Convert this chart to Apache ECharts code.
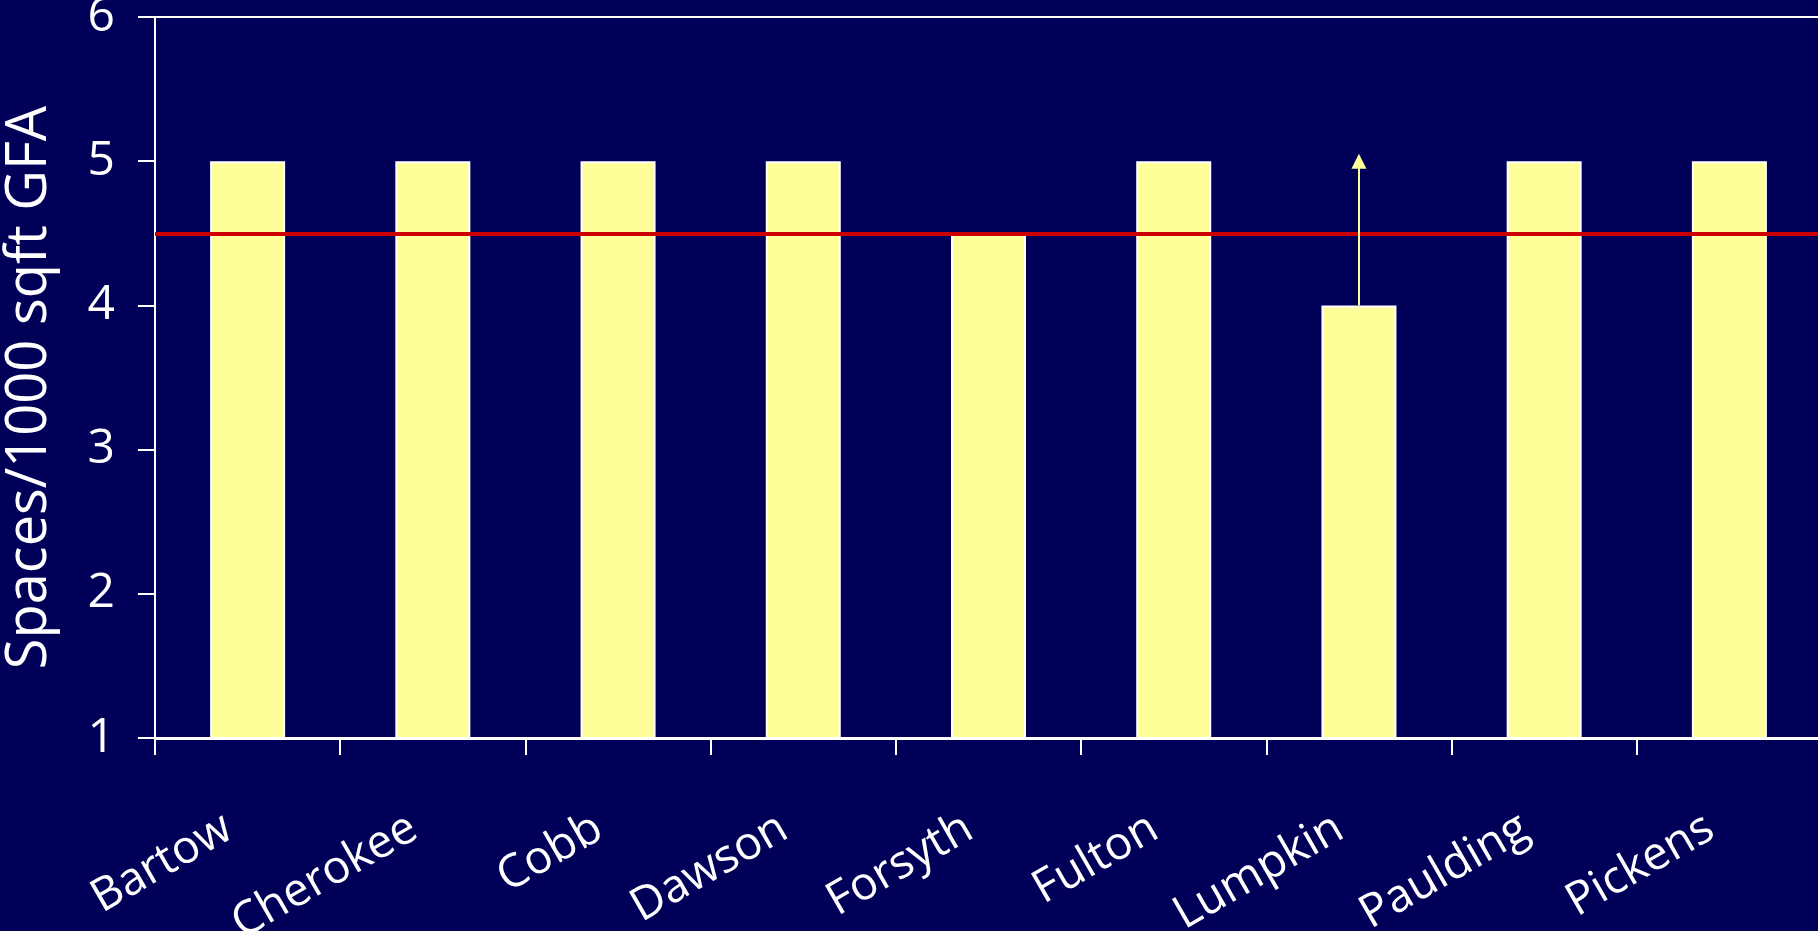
<!DOCTYPE html>
<html>
<head>
<meta charset="utf-8">
<script src="https://cdn.jsdelivr.net/npm/echarts@6/dist/echarts.min.js"></script>
<style>
  html, body { margin: 0; padding: 0; background: #000058; }
  #chart { width: 1818px; height: 931px; }
</style>
</head>
<body>
<div id="chart"></div>
<script>
// counties and their parking requirement (spaces per 1000 sqft GFA)
let counties = ['Bartow', 'Cherokee', 'Cobb', 'Dawson', 'Forsyth', 'Fulton', 'Lumpkin', 'Paulding', 'Pickens'];
let spaces = [5, 5, 5, 5, 4.5, 5, 4, 5, 5];
let average = 4.5;
// Lumpkin arrow: from its value up to this one
let arrowFrom = ['Lumpkin', 4];
let arrowTo = ['Lumpkin', 5];
let yTicks = { min: 1, max: 6, interval: 1 };

let font = '"Open Sans", "Noto Sans", sans-serif';

let chart = echarts.init(document.getElementById('chart'));
chart.setOption({
  animation: false,
  backgroundColor: '#000058',
  grid: {
    left: 155,
    right: -4,
    top: 17,
    bottom: 193,
    outerBoundsMode: 'none',
    containLabel: false,
    show: true,
    borderColor: '#ffffff',
    borderWidth: 2,
    backgroundColor: 'transparent'
  },
  xAxis: {
    type: 'category',
    data: counties,
    axisLine: { lineStyle: { color: '#ffffff', width: 3 } },
    axisTick: { show: true, length: 17, lineStyle: { color: '#ffffff', width: 2 } },
    axisLabel: {
      color: '#ffffff',
      fontFamily: font,
      fontSize: 46,
      rotate: 30,
      margin: 76,
      padding: [0, 22, 0, 0],
      interval: 0
    }
  },
  yAxis: {
    type: 'value',
    min: yTicks.min,
    max: yTicks.max,
    interval: yTicks.interval,
    name: 'Spaces/1000 sqft GFA',
    nameLocation: 'middle',
    nameGap: 97,
    nameTextStyle: { color: '#ffffff', fontFamily: font, fontSize: 56, padding: [0, 20, 0, 0] },
    axisLine: { show: true, lineStyle: { color: '#ffffff', width: 2 } },
    axisTick: { show: true, length: 17, lineStyle: { color: '#ffffff', width: 2 } },
    axisLabel: { color: '#ffffff', fontFamily: font, fontSize: 48, margin: 40 },
    splitLine: { show: false }
  },
  series: [{
    type: 'bar',
    data: spaces,
    barWidth: 75,
    clip: true,
    itemStyle: { color: '#ffff99', borderColor: '#ffffff', borderWidth: 2 },
    markLine: {
      silent: true,
      symbol: ['none', 'none'],
      label: { show: false },
      data: [
        {
          yAxis: average,
          lineStyle: { color: '#cc0000', width: 4, type: 'solid' }
        },
        [
          { coord: arrowFrom, symbol: 'none' },
          { coord: arrowTo, symbol: 'triangle', symbolSize: [15, 15] }
        ]
      ],
      lineStyle: { color: '#ffff99', width: 2, type: 'solid' }
    }
  }]
});
</script>
</body>
</html>
